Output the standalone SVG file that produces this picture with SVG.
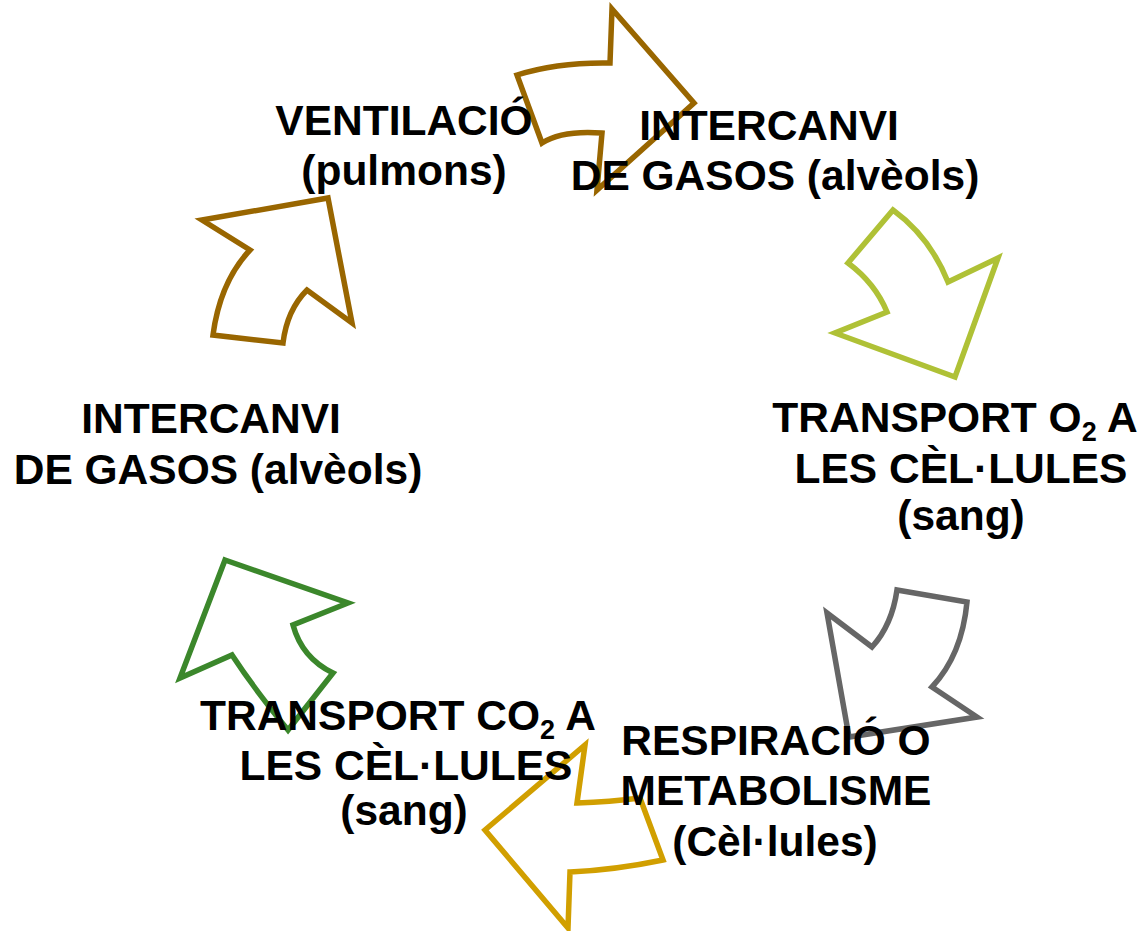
<svg xmlns="http://www.w3.org/2000/svg" width="1144" height="931" viewBox="0 0 1144 931">
<style>
.arr{fill:none;stroke-width:5.5;stroke-linejoin:miter;stroke-miterlimit:10}
.t{font-family:"Liberation Sans",Arial,sans-serif;font-weight:bold;font-size:42.5px;fill:#000;text-anchor:middle}
.sub{font-size:27px}
</style>
<rect width="1144" height="931" fill="#fff"/>
<g id="connectors">
<path id="a1" class="arr" stroke="#996600" d="M517,75 Q558,62 610,63 L612,9 L694,103 L597,190 L602,133 Q562,130 542,143 Z"/>
<path id="a2" class="arr" stroke="#AFC136" d="M893,210 Q930,237 948,282 L998,258 L955,377 L835,333 L887,312 Q875,283 848,263 Z"/>
<path id="a3" class="arr" stroke="#666666" d="M897,590 L967,602 Q962,655 932,687 L977,717 L849,737 L827,613 L872,647 Q892,625 897,590 Z"/>
<path id="a4" class="arr" stroke="#D19F00" d="M585,745 L577,803 Q610,802 640,798 L663,860 Q615,870 570,872 L568,928 L485,830 Z"/>
<path id="a5" class="arr" stroke="#3B872B" d="M225,560 L348,603 L293,625 Q302,658 333,673 L288,730 Q255,690 232,655 L180,678 Z"/>
<path id="a6" class="arr" stroke="#996600" d="M202,220 L328,198 L352,323 L307,290 Q287,310 283,343 L213,335 Q220,282 250,250 Z"/>
</g>
<g id="n-ventilacio"><text class="t" x="404" y="135">VENTILACIÓ</text><text class="t" x="404" y="185">(pulmons)</text></g>
<g id="n-intercanvi-right"><text class="t" x="769" y="140">INTERCANVI</text><text class="t" x="775" y="190">DE GASOS (alvèols)</text></g>
<g id="n-transport-o2"><text class="t" x="955" y="432">TRANSPORT O<tspan class="sub" dy="9">2</tspan><tspan dy="-9"> A</tspan></text><text class="t" x="961" y="483">LES CÈL·LULES</text><text class="t" x="961" y="530">(sang)</text></g>
<g id="n-respiracio"><text class="t" x="776" y="755">RESPIRACIÓ O</text><text class="t" x="776" y="805">METABOLISME</text><text class="t" x="775" y="856">(Cèl·lules)</text></g>
<g id="n-transport-co2"><text class="t" x="398" y="730">TRANSPORT CO<tspan class="sub" dy="9">2</tspan><tspan dy="-9"> A</tspan></text><text class="t" x="406" y="780">LES CÈL·LULES</text><text class="t" x="404" y="825">(sang)</text></g>
<g id="n-intercanvi-left"><text class="t" x="211" y="433">INTERCANVI</text><text class="t" x="218" y="484">DE GASOS (alvèols)</text></g>
</svg>
